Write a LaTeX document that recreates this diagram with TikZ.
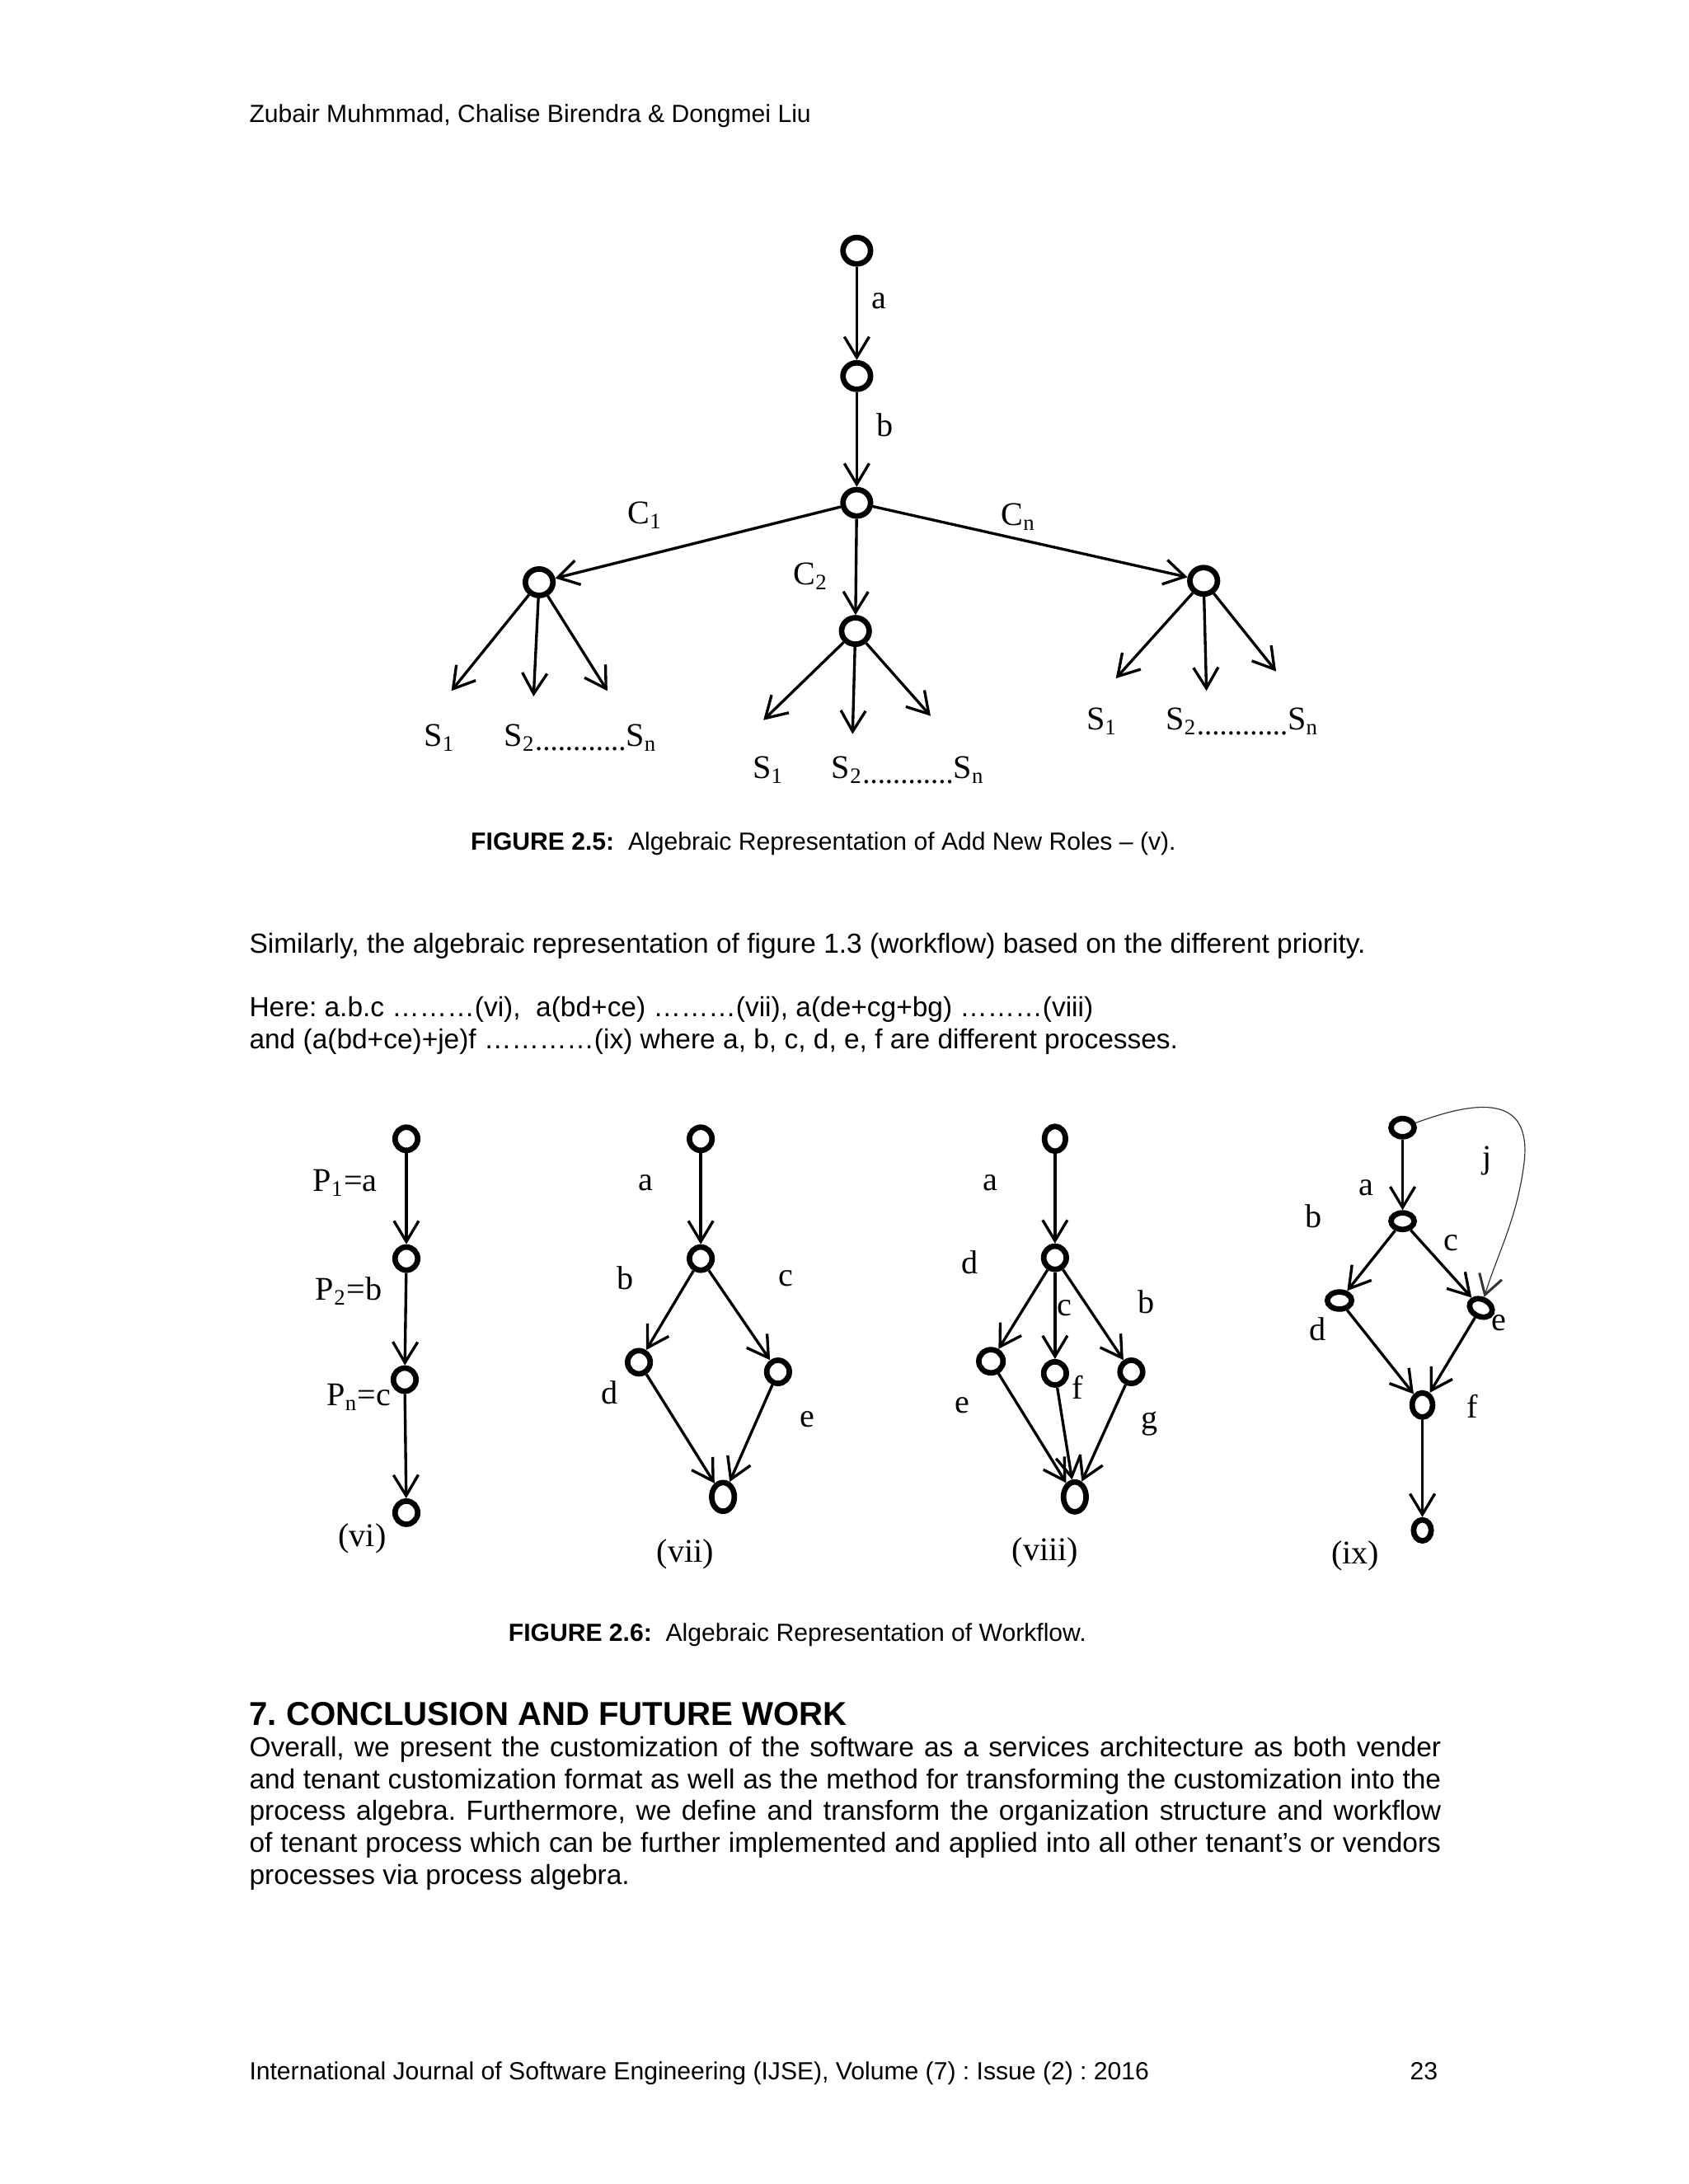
\documentclass[tikz,border=0pt]{standalone}
\usepackage{fontspec}
\setmainfont{Liberation Sans}
\newfontfamily\tnr{Liberation Serif}
\usetikzlibrary{arrows.meta,shapes.geometric}
\frenchspacing
\newcommand{\sdots}{S\textsubscript{2}\raisebox{-1.6pt}{\fontsize{11}{13}\selectfont............}S\textsubscript{n}}
\newcommand{\jline}[1]{\leavevmode\hbox to 432pt{#1}}
\newcommand{\setsp}{\spaceskip=2.78pt plus 2pt minus 1pt\relax}

\begin{document}
\begin{tikzpicture}[x=0.505pt,y=-0.505pt,line width=1pt,
    >={Straight Barb[length=7.5pt,width=9pt]},
    vtx/.style={draw,ellipse,line width=2pt,inner sep=0pt,minimum width=8.2pt,minimum height=8.4pt},
    big/.style={vtx,minimum width=10pt,minimum height=9.6pt},
    lab/.style={font=\tnr\fontsize{12}{14}\selectfont,inner sep=0pt},
    txt/.style={font=\fontsize{10}{11.6}\selectfont,inner sep=0pt,anchor=base west},
    small/.style={txt,font=\fontsize{9}{11}\selectfont},
    figcap/.style={font=\fontsize{9}{11}\selectfont,inner sep=0pt,anchor=base west}]
    \fill[white] (0,0) rectangle (1212,1568);
    \useasboundingbox (0,0) rectangle (1212,1568);
    \node[small] (head) at (178,88) {Zubair Muhmmad, Chalise Birendra \& Dongmei Liu};

    \node[big] (t1) at (615,180) {};
    \node[big] (t2) at (615,270) {};
    \node[big] (t3) at (615,361) {};
    \node[big] (tl) at (387,418) {};
    \node[big] (tm) at (614,453) {};
    \node[big] (tr) at (864,417) {};
    \draw[->] (t1)--(t2);
    \draw[->] (t2)--(t3);
    \draw[->] (t3)--(tl);
    \draw[->] (t3)--(tm);
    \draw[->] (t3)--(tr);
    \node[lab] (la) at (631,216) {a};
    \node[lab] (lb) at (635,305) {b};
    \node[lab] (lc1) at (463,370) {C\textsubscript{1}};
    \node[lab] (lc2) at (582,414) {C\textsubscript{2}};
    \node[lab] (lcn) at (731,371) {C\textsubscript{n}};
    \foreach \s/\x/\y [count=\i] in {tl/324/496,tl/383/500,tl/436/496,tm/548/517,tm/612/527,tm/668/514,tr/801/487,tr/866/496,tr/916/482}
    {
        \coordinate (e\i) at (\x,\y);
        \draw[->] (\s)--(e\i);
    }
    \foreach \x/\xx/\y [count=\i] in {315.5/361/529.5,551.5/596/553,791/836/518}
    {
        \node[lab] (sa\i) at (\x,\y) {S\textsubscript{1}};
        \node[lab,anchor=west] (sb\i) at (\xx,\y) {\sdots};
    }
    \node[figcap] (cap5) at (337,610.5) {\textbf{FIGURE 2.5:}\ \ Algebraic Representation of Add New Roles – (v).};

    \node[txt] (sim) at (178,684) {Similarly, the algebraic representation of figure 1.3 (workflow) based on the different priority.};
    \node[txt,text width=432pt,align=left] (here) at (178,730) {\setsp Here: a.b.c ………(vi),\ \ a(bd+ce) ………(vii), a(de+cg+bg) ………(viii)\\and (a(bd+ce)+je)f …………(ix) where a, b, c, d, e, f are different processes.};

    \node[vtx] (v1) at (291.7,817.6) {};
    \node[vtx] (v2) at (291.7,903.6) {};
    \node[vtx] (v3) at (290.5,990.5) {};
    \node[vtx] (v4) at (291.7,1086) {};
    \draw[->] (v1)--(v2);
    \draw[->] (v2)--(v3);
    \draw[->] (v3)--(v4);
    \node[lab] (p1) at (247.8,849.4) {P\textsubscript{1}=a};
    \node[lab] (p2) at (250.3,926.9) {P\textsubscript{2}=b};
    \node[lab] (pn) at (257.7,1003) {P\textsubscript{n}=c};
    \node[lab] (vi) at (260,1104.3) {(vi)};

    \node[vtx] (w1) at (503,817.6) {};
    \node[vtx] (w2) at (503,903.6) {};
    \node[vtx] (wl) at (458.6,978) {};
    \node[vtx] (wr) at (558.5,984.9) {};
    \node[vtx,minimum height=10.4pt] (wb) at (519,1074.7) {};
    \draw[->] (w1)--(w2);
    \draw[->] (w2)--(wl);
    \draw[->] (w2)--(wr);
    \draw[->] (wl)--(wb);
    \draw[->] (wr)--(wb);
    \node[lab] (wa) at (463.6,849.4) {a};
    \node[lab] (wlb) at (448.8,917.7) {b};
    \node[lab] (wlc) at (564.2,917.7) {c};
    \node[lab] (wld) at (437.7,999.6) {d};
    \node[lab] (wle) at (579.5,1019) {e};
    \node[lab] (vii) at (491.9,1115.8) {(vii)};

    \node[vtx,minimum width=7.6pt,minimum height=9pt] (x1) at (757.3,817.6) {};
    \node[vtx] (x2) at (757.3,903) {};
    \node[vtx,minimum width=8.8pt] (xl) at (711.3,977.3) {};
    \node[vtx] (xc) at (757.3,986) {};
    \node[vtx] (xr) at (812.1,984.9) {};
    \node[vtx,minimum height=10.8pt] (xb) at (771.5,1074.7) {};
    \draw[->] (x1)--(x2);
    \draw[->] (x2)--(xl);
    \draw[->] (x2)--(xc);
    \draw[->] (x2)--(xr);
    \draw[->] (xl)--(xb);
    \draw[->] (xc)--(xb);
    \draw[->] (xr)--(xb);
    \node[lab] (xa) at (711.1,849.4) {a};
    \node[lab] (xld) at (696.3,906.3) {d};
    \node[lab] (xlc) at (764.4,939.3) {c};
    \node[lab] (xlb) at (822.5,934.8) {b};
    \node[lab] (xle) at (690.6,1008.7) {e};
    \node[lab] (xlf) at (773.5,996.3) {f};
    \node[lab] (xlg) at (825.4,1022.4) {g};
    \node[lab] (viii) at (750.2,1114.6) {(viii)};

    \node[vtx,minimum width=8.4pt,minimum height=6.6pt] (y1) at (1006.8,809.6) {};
    \node[vtx,minimum width=8.4pt,minimum height=6pt] (y2) at (1006.8,876.7) {};
    \node[vtx,minimum width=8.8pt,minimum height=6.2pt] (yl) at (961.5,933.7) {};
    \node[vtx,minimum width=8.6pt,minimum height=6.2pt,rotate=-25] (yr) at (1063,939) {};
    \node[vtx,minimum width=7.4pt,minimum height=8.8pt] (yf) at (1021,1008.7) {};
    \node[vtx,minimum width=6.4pt,minimum height=7.6pt] (yb) at (1021,1098.7) {};
    \draw[->] (y1)--(y2);
    \draw[->] (y2)--(yl);
    \draw[->] (y2)--(yr);
    \draw[->] (yl)--(yf);
    \draw[->] (yr)--(yf);
    \draw[->] (yf)--(yb);
    \draw[-{Straight Barb[length=7pt,width=8.5pt,line width=0.9pt]},line width=0.35pt,black!80] (y1) .. controls (1060,790) and (1100,785) .. (1094,835) .. controls (1089,875) and (1075,900) .. (yr);
    \node[lab] (ya) at (980.5,852.9) {a};
    \node[lab] (ylb) at (943,873.4) {b};
    \node[lab] (ylc) at (1041.7,892.7) {c};
    \node[lab] (ylj) at (1067.2,833.5) {j};
    \node[lab] (yld) at (945.8,954.1) {d};
    \node[lab] (yle) at (1075.8,949.6) {e};
    \node[lab] (ylf) at (1057,1009.9) {f};
    \node[lab] (ix) at (972.8,1116.9) {(ix)};
    \node[figcap] (cap6) at (364,1178.5) {\textbf{FIGURE 2.6:}\ \ Algebraic Representation of Workflow.};

    \node[txt,font=\bfseries\fontsize{12}{14}\selectfont] (sec) at (178,1238.5) {7. CONCLUSION AND FUTURE WORK};
    \node[txt,text width=432pt,align=left] (body) at (178,1261) {\setsp\jline{Overall, we present the customization of the software as a services architecture as both vender}\\\jline{and tenant customization format as well as the method for transforming the customization into the}\\\jline{process algebra. Furthermore, we define and transform the organization structure and workflow}\\\jline{of tenant process which can be further implemented and applied into all other tenant’s or vendors}\\processes via process algebra.};

    \node[small] (foot) at (178,1493) {International Journal of Software Engineering (IJSE), Volume (7) : Issue (2) : 2016};
    \node[small,anchor=base east] (pg) at (1033,1493) {23};
\end{tikzpicture}
\end{document}
